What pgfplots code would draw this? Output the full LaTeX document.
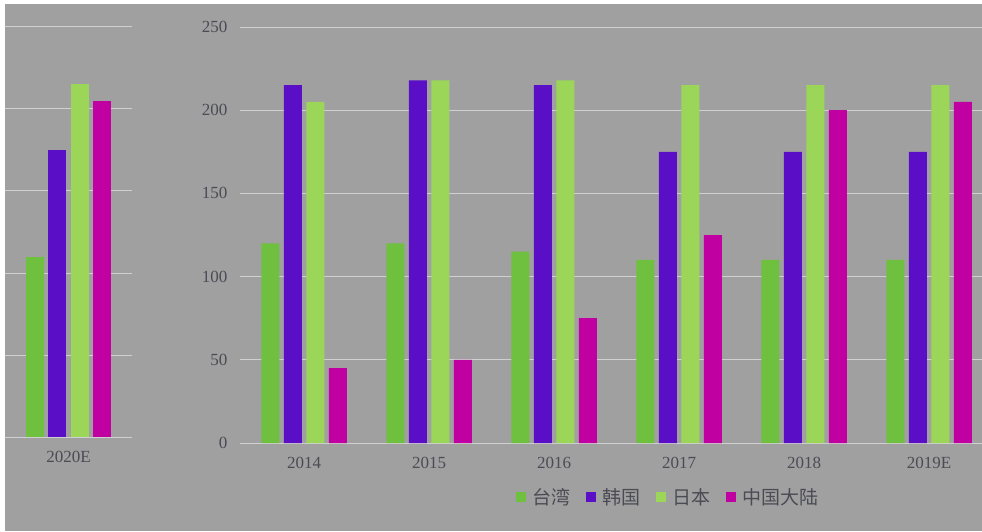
\documentclass[border=0pt]{standalone}
\usepackage{pgfplots}
\pgfplotsset{compat=1.18}
\usepackage{fontspec}
\setmainfont{Liberation Serif}
\newfontfamily\cjk{Noto Sans CJK SC}
\definecolor{bg}{RGB}{160,160,160}
\definecolor{gridc}{RGB}{208,208,208}
\definecolor{tickc}{RGB}{75,75,85}
\definecolor{ctw}{RGB}{112,192,64}
\definecolor{ckr}{RGB}{90,14,198}
\definecolor{cjp}{RGB}{155,214,88}
\definecolor{ccn}{RGB}{192,0,160}

\pgfplotsset{
  panel/.style={
    scale only axis,
    ybar=4.5pt, bar width=18pt,
    ymin=0, ymax=250, ytick={0,50,...,250},
    ymajorgrids, grid style={gridc, line width=1pt},
    axis line style={draw=none},
    major tick length=0pt,
    xtick=data,
    tick label style={font=\fontsize{17}{17}\selectfont, text=tickc},
    /pgf/number format/assume math mode=true,
    xticklabel style={yshift=-11pt},
  }
}

\begin{document}
\begin{tikzpicture}
\useasboundingbox (0pt,0pt) rectangle (982pt,531pt);
\fill[white] (0pt,0pt) rectangle (982pt,531pt);
\fill[bg] (5pt,0pt) rectangle (982pt,527pt);

% left panel: 2020E
\begin{axis}[panel,
  at={(5pt,94pt)}, anchor=south west,
  width=127pt, height=410pt,
  xmin=-0.5, xmax=0.5,
  xticklabels={2020E},
  yticklabels={},
]
\addplot[fill=ctw, draw=none] coordinates {(0,110)};
\addplot[fill=ckr, draw=none] coordinates {(0,175)};
\addplot[fill=cjp, draw=none] coordinates {(0,215)};
\addplot[fill=ccn, draw=none] coordinates {(0,205)};
\end{axis}

% main panel: 2014-2019E
\begin{axis}[panel,
  at={(240pt,88pt)}, anchor=south west,
  width=742pt, height=416pt,
  xmin=-0.512, xmax=5.424,
  xticklabels={2014,2015,2016,2017,2018,2019E},
  yticklabel style={xshift=-9pt},
  legend style={at={(0.577,-0.13)}, anchor=center, draw=none, fill=none,
    legend columns=4, font=\cjk\fontsize{19}{19}\selectfont, text=tickc,
    /tikz/every odd column/.append style={column sep=4pt},
    /tikz/every even column/.append style={column sep=14pt}},
  legend image code/.code={\fill[#1] (0pt,-5pt) rectangle (10pt,5pt);},
]
\addplot[fill=ctw, draw=none] coordinates {(0,120) (1,120) (2,115) (3,110) (4,110) (5,110)};
\addplot[fill=ckr, draw=none] coordinates {(0,215) (1,218) (2,215) (3,175) (4,175) (5,175)};
\addplot[fill=cjp, draw=none] coordinates {(0,205) (1,218) (2,218) (3,215) (4,215) (5,215)};
\addplot[fill=ccn, draw=none] coordinates {(0,45) (1,50) (2,75) (3,125) (4,200) (5,205)};
\legend{台湾,韩国,日本,中国大陆}
\end{axis}
\end{tikzpicture}
\end{document}
